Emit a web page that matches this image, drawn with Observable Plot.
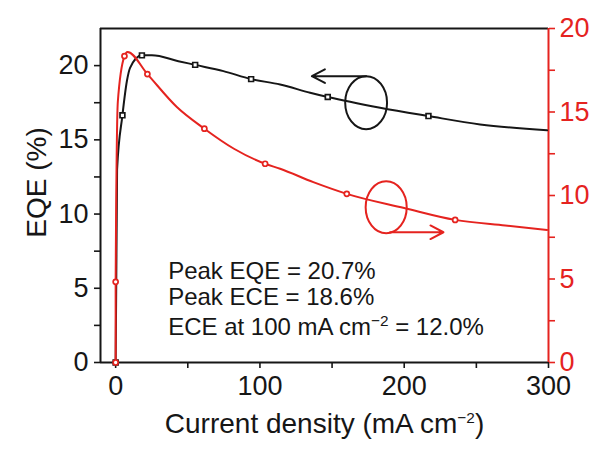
<!DOCTYPE html>
<html>
<head>
<meta charset="utf-8">
<script src="https://cdn.jsdelivr.net/npm/d3@7"></script>
<script src="https://cdn.jsdelivr.net/npm/@observablehq/plot@0.6"></script>
<style>
  html, body { margin: 0; padding: 0; background: #fff; }
  #chart { width: 590px; height: 454px; }
</style>
</head>
<body>
<div id="chart"></div>
<script>
// ---- Data ----
// EQE (left axis, %) – curve
const eqeX = [0, 1.0, 4.7, 7.8, 10.0, 18.2, 25.1, 43.5, 55.1, 74.7, 93.9, 114, 134.8, 147, 183.3, 216.8, 252.6, 299];
const eqeY = [0, 13.0, 16.65, 18.96, 19.85, 20.69, 20.69, 20.3, 20.05, 19.63, 19.09, 18.73, 18.17, 17.88, 17.16, 16.6, 16.04, 15.64];
// EQE markers
const eqeMarkX = [0, 4.7, 18.2, 55.1, 93.9, 147, 216.8];
const eqeMarkY = [0, 16.65, 20.69, 20.05, 19.09, 17.88, 16.6];

// ECE (right axis, %) – curve
const eceX = [0, 0, 1.5, 6.1, 8.2, 22.0, 42.4, 61.5, 82, 103.6, 114, 137, 160.2, 200, 235.3, 270, 299];
const eceY = [0, 4.83, 15.6, 18.35, 18.6, 17.27, 15.3, 14.0, 12.8, 11.9, 11.6, 10.8, 10.1, 9.25, 8.54, 8.2, 7.94];
// ECE markers
const eceMarkX = [0, 0, 6.1, 22.0, 61.5, 103.6, 160.2, 235.3];
const eceMarkY = [0, 4.83, 18.35, 17.27, 14.0, 11.9, 10.1, 8.54];

// Axes
const xTicks = [0, 50, 100, 150, 200, 250, 300];
const leftTicks = [0, 2.5, 5, 7.5, 10, 12.5, 15, 17.5, 20];
const rightTicks = [0, 2.5, 5, 7.5, 10, 12.5, 15, 17.5, 20];
const xDomain = [-10.5, 300];
const leftDomain = [0, 22.5];
const rightDomain = [0, 20];

// Text
const xTitle = "Current density (mA cm^{−2})";
const yTitle = "EQE (%)";
const notes = ["Peak EQE = 20.7%", "Peak ECE = 18.6%", "ECE at 100 mA cm^{−2} = 12.0%"];
const noteX = 36.4;
const noteY = [6.14, 4.41, 2.34];

// Annotations: ellipses (x, y on own axis) and arrows
const eqeEllipse = {x: 173.6, y: 17.5};
const eceEllipse = {x: 187.5, y: 9.3};
const eqeArrow = {x1: 173.6, x2: 136, y: 19.29};
const eceArrow = {x1: 190.2, x2: 227.2, y: 7.8};

// ---- Drawing ----
const red = "#e5231f";
const ink = "#161616";
const k = leftDomain[1] / rightDomain[1]; // right -> left units

const eqe = eqeX.map((x, i) => ({x, y: eqeY[i]}));
const eqeM = eqeMarkX.map((x, i) => ({x, y: eqeMarkY[i]}));
const ece = eceX.map((x, i) => ({x, y: eceY[i] * k}));
const eceM = eceMarkX.map((x, i) => ({x, y: eceMarkY[i] * k}));

const ellipseSymbol = {
  draw(ctx, size) {
    const r = Math.sqrt(size / Math.PI);
    const ry = r, rx = r * 0.79, c = 0.5523;
    ctx.moveTo(rx, 0);
    ctx.bezierCurveTo(rx, c * ry, c * rx, ry, 0, ry);
    ctx.bezierCurveTo(-c * rx, ry, -rx, c * ry, -rx, 0);
    ctx.bezierCurveTo(-rx, -c * ry, -c * rx, -ry, 0, -ry);
    ctx.bezierCurveTo(c * rx, -ry, rx, -c * ry, rx, 0);
    ctx.closePath();
  }
};

const fmtRight = d => {
  const v = Math.round(d / k * 10) / 10;
  return v % 5 === 0 ? String(v) : "";
};

const chart = Plot.plot({
  width: 590,
  height: 454,
  marginLeft: 100,
  marginRight: 42,
  marginTop: 28,
  marginBottom: 92,
  x: {domain: xDomain},
  y: {domain: leftDomain},
  style: {fontFamily: "'Liberation Sans', Arial, Helvetica, sans-serif", fontSize: "27px", color: ink, background: "#fff"},
  marks: [
    // axes
    Plot.axisX({ticks: xTicks, tickFormat: d => d % 100 === 0 ? String(d) : "", tickSize: 6, tickPadding: 7, strokeWidth: 1.6, label: null}),
    Plot.axisY({ticks: leftTicks, tickFormat: d => d % 5 === 0 ? String(d) : "", tickSize: 6, tickPadding: 6, strokeWidth: 1.6, label: null}),
    Plot.axisY({anchor: "right", ticks: rightTicks.map(v => v * k), tickFormat: fmtRight, tickSize: 6, tickPadding: 5, strokeWidth: 1.6, color: red, label: null}),
    Plot.ruleY([leftDomain[1]], {stroke: ink, strokeWidth: 2}),
    Plot.ruleY([0], {stroke: ink, strokeWidth: 2}),
    Plot.ruleX([xDomain[0]], {stroke: ink, strokeWidth: 2}),
    Plot.ruleX([xDomain[1]], {stroke: red, strokeWidth: 2}),
    // EQE
    Plot.line(eqe, {x: "x", y: "y", stroke: ink, strokeWidth: 2, curve: "monotone-x"}),
    Plot.dot(eqeM, {x: "x", y: "y", symbol: "square", r: 2.7, stroke: ink, fill: "#fff", strokeWidth: 1.7}),
    // ECE
    Plot.line(ece, {x: "x", y: "y", stroke: red, strokeWidth: 2, curve: "monotone-x"}),
    Plot.dot(eceM, {x: "x", y: "y", symbol: "circle", r: 2.5, stroke: red, fill: "#fff", strokeWidth: 1.7}),
    // annotations
    Plot.dot([eqeEllipse], {x: "x", y: "y", symbol: ellipseSymbol, r: 26.5, stroke: ink, strokeWidth: 2, fill: "none"}),
    Plot.dot([eceEllipse], {x: "x", y: d => d.y * k, symbol: ellipseSymbol, r: 26, stroke: red, strokeWidth: 2, fill: "none"}),
    Plot.arrow([eqeArrow], {x1: "x1", x2: "x2", y1: "y", y2: "y", stroke: ink, strokeWidth: 2, headLength: 11, headAngle: 55}),
    Plot.arrow([eceArrow], {x1: "x1", x2: "x2", y1: d => d.y * k, y2: d => d.y * k, stroke: red, strokeWidth: 2, headLength: 11, headAngle: 55}),
    Plot.text(notes, {x: () => noteX, y: (d, i) => noteY[i], text: d => d, textAnchor: "start", fontSize: 24, fill: ink}),
    // titles
    Plot.text([xTitle], {frameAnchor: "bottom", textAnchor: "middle", dy: 70, fontSize: 28, fill: ink}),
    Plot.text([yTitle], {frameAnchor: "left", textAnchor: "middle", rotate: -90, dx: -63, dy: -13, fontSize: 28, fill: ink})
  ]
});

// superscript post-processing: "^{...}"
const NS = "http://www.w3.org/2000/svg";
chart.querySelectorAll("text").forEach(t => {
  if (t.children.length) return;
  const s = t.textContent;
  const m = s.match(/^(.*)\^\{(.*?)\}(.*)$/);
  if (!m) return;
  const fs = parseFloat(t.getAttribute("font-size")) || 24;
  const up = fs * 0.38;
  t.textContent = "";
  const a = document.createElementNS(NS, "tspan"); a.textContent = m[1];
  const b = document.createElementNS(NS, "tspan"); b.textContent = m[2];
  b.setAttribute("font-size", (fs * 0.64).toFixed(1));
  b.setAttribute("dy", (-up).toFixed(1));
  const c = document.createElementNS(NS, "tspan"); c.textContent = m[3];
  c.setAttribute("dy", up.toFixed(1));
  t.append(a, b, c);
});

document.getElementById("chart").append(chart);
</script>
</body>
</html>
